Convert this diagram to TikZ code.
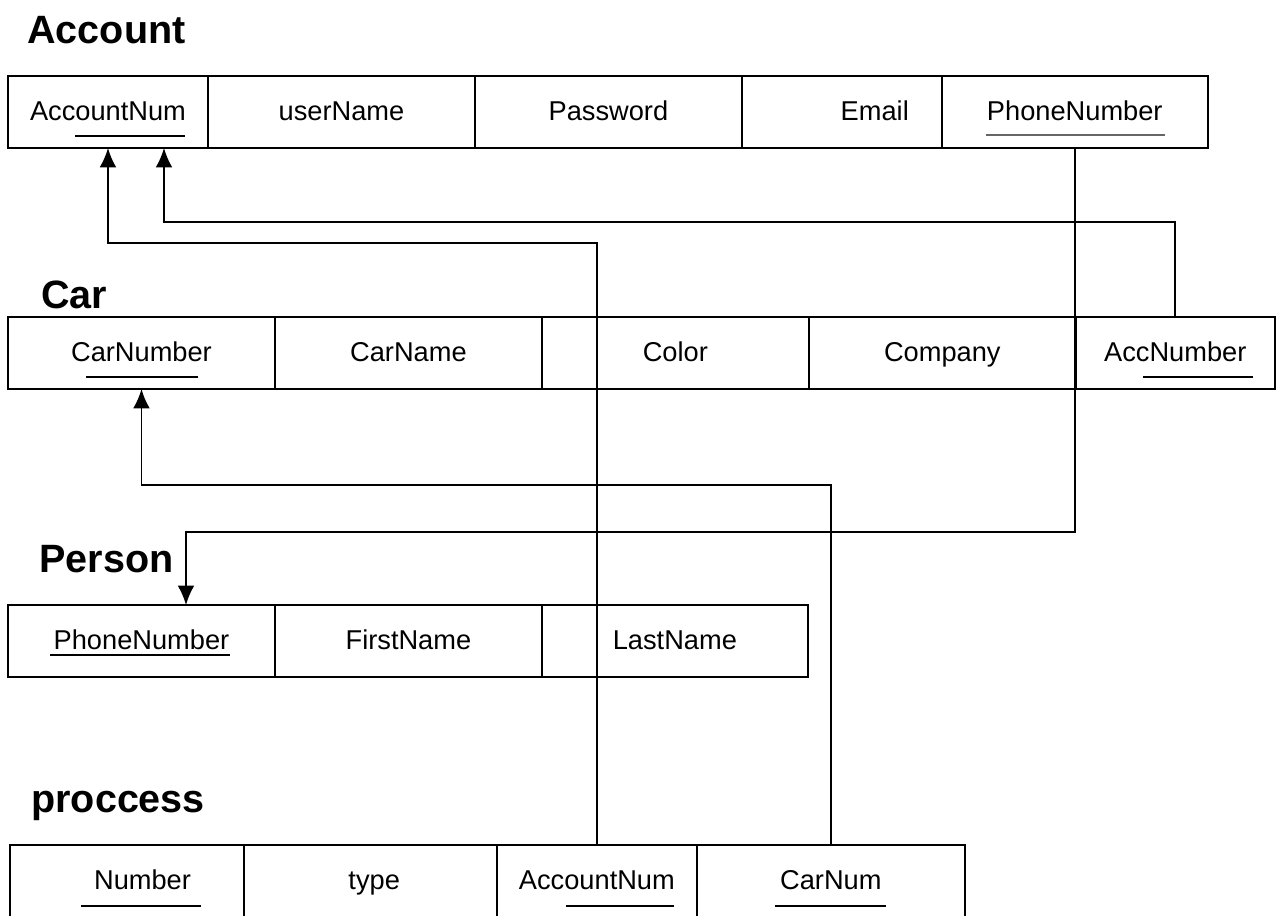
\documentclass[tikz,border=0pt]{standalone}
\usepackage{fontspec}
\setmainfont{Liberation Sans}
\usetikzlibrary{positioning,arrows.meta}

\newcommand\cellfont{\fontsize{15.5}{18}\selectfont}
\newcommand\titlefont{\fontsize{22.5}{26}\selectfont\bfseries}

\tikzset{
    tbl/.style={draw, line width=1pt, minimum height=1.44cm, inner sep=0pt, outer sep=0pt,
        font=\cellfont, text height=0.98em, text depth=0pt, anchor=north west},
    ttl/.style={font=\titlefont, anchor=base west, inner sep=0pt},
    fk/.style={line width=1pt, -{Latex[length=11pt,width=9.5pt]}},
    keyline/.style={line width=1pt}
}

\begin{document}
\begin{tikzpicture}[x=0.02cm, y=-0.02cm]
        \useasboundingbox (0,0) rectangle (1276,916);

        \node[ttl] (tacc) at (27,43) {Account};
        \node[tbl, minimum width=4cm] (accnum) at (8,76) {AccountNum};
        \node[tbl, minimum width=5.34cm, right=0pt of accnum] (accuser) {userName};
        \node[tbl, minimum width=5.34cm, right=0pt of accuser] (accpass) {Password};
        \node[tbl, minimum width=4cm, text width=2.68cm, align=right, right=0pt of accpass] (accmail) {Email};
        \node[tbl, minimum width=5.32cm, right=0pt of accmail] (accphone) {PhoneNumber};

        \node[ttl] (tcar) at (41,308) {Car};
        \node[tbl, minimum width=5.34cm] (carnum) at (8,317) {CarNumber};
        \node[tbl, minimum width=5.34cm, right=0pt of carnum] (carname) {CarName};
        \node[tbl, minimum width=5.34cm, right=0pt of carname] (carcolor) {Color};
        \node[tbl, minimum width=5.34cm, right=0pt of carcolor] (carcomp) {Company};
        \node[tbl, minimum width=3.98cm, right=0pt of carcomp] (caracc) {AccNumber};

        \node[ttl] (tpers) at (39,572) {Person};
        \node[tbl, minimum width=5.34cm] (pphone) at (8,605) {PhoneNumber};
        \node[tbl, minimum width=5.34cm, right=0pt of pphone] (pfirst) {FirstName};
        \node[tbl, minimum width=5.32cm, right=0pt of pfirst] (plast) {LastName};

        \node[ttl] (tproc) at (31,812) {proccess};
        \node[tbl, minimum width=4.68cm, text width=2.56cm, align=right] (prnum) at (10,845) {Number};
        \node[tbl, minimum width=5.06cm, text width=1.18cm, align=right, right=0pt of prnum] (prtype) {type};
        \node[tbl, minimum width=4cm, right=0pt of prtype] (pracc) {AccountNum};
        \node[tbl, minimum width=5.36cm, right=0pt of pracc] (prcar) {CarNum};

        \draw[keyline] (75,136) -- (185,136);
        \draw[keyline, black!60] (986,135) -- (1165,135);
        \draw[keyline] (86,377) -- (198,377);
        \draw[keyline] (1143,377) -- (1253,377);
        \draw[keyline] (50,655) -- (230,655);
        \draw[keyline] (81,906) -- (201,906);
        \draw[keyline] (566,906) -- (674,906);
        \draw[keyline] (775,906) -- (886,906);

        \coordinate (j1) at (108,243);
        \coordinate (j2) at (164,222);
        \coordinate (j3) at (186,532);
        \coordinate (j4) at (142,485);

        \draw[fk] (pracc.north) |- (accnum.south |- j1) -- (accnum.south);
        \draw[fk] (caracc.north) |- (j2) -- (j2 |- accnum.south);
        \draw[fk] (accphone.south) |- (j3) -- (j3 |- pphone.north);
        \draw[fk] (prcar.north) |- (carnum.south |- j4) -- (carnum.south);
    \end{tikzpicture}
\end{document}
